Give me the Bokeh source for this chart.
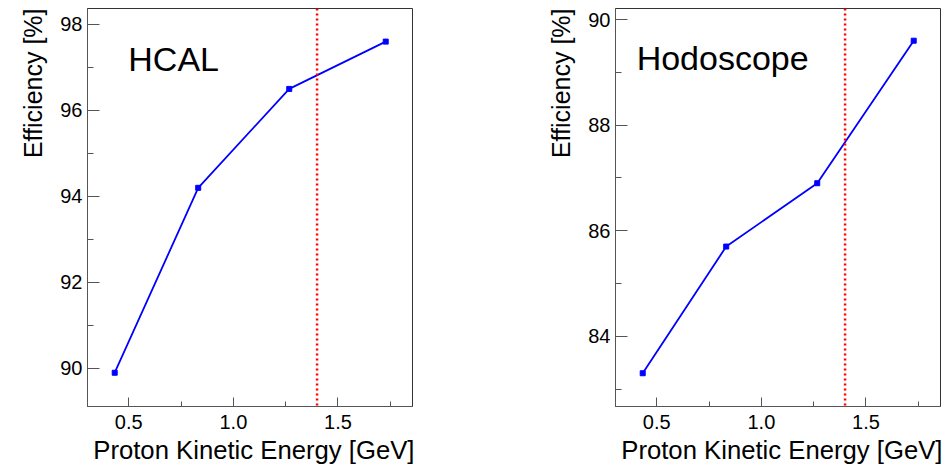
from bokeh.plotting import figure
from bokeh.layouts import row
from bokeh.models import Span, Label, Title, SingleIntervalTicker, PrintfTickFormatter
from bokeh.embed import file_html
from bokeh.resources import INLINE

# Data
energy = [0.433, 0.832, 1.267, 1.728]          # Proton kinetic energy [GeV]
hcal_eff = [89.9, 94.2, 96.5, 97.6]            # HCAL efficiency [%]
hodo_eff = [83.3, 85.7, 86.9, 89.6]            # Hodoscope efficiency [%]
cut_energy = 1.4                               # red dotted line
panel_names = ["HCAL", "Hodoscope"]
x_label = "Proton Kinetic Energy [GeV]"
y_label = "Efficiency [%]"

FONT = "Liberation Sans"
AX = "#555555"


def make_panel(y, name, yrange, bl, br, lab_xy):
    p = figure(width=bl + 325 + br, height=466, output_backend="svg",
               toolbar_location=None, x_range=(0.303, 1.856), y_range=yrange,
               min_border_left=bl, min_border_right=br,
               min_border_top=8, min_border_bottom=60)
    p.grid.visible = False
    p.background_fill_color = "white"
    p.border_fill_color = "white"
    p.outline_line_color = "#333333"
    p.outline_line_width = 1

    p.xaxis.ticker = SingleIntervalTicker(interval=0.5, num_minor_ticks=2)
    p.xaxis.formatter = PrintfTickFormatter(format="%.1f")
    p.yaxis.ticker = SingleIntervalTicker(interval=2, num_minor_ticks=2)

    for ax in (p.xaxis[0], p.yaxis[0]):
        ax.axis_line_color = AX
        ax.major_tick_line_color = AX
        ax.minor_tick_line_color = AX
        ax.major_tick_out = 0
        ax.minor_tick_out = 0
        ax.major_label_text_font = FONT
        ax.major_label_text_font_size = "20px"
        ax.major_label_text_color = "black"
    p.xaxis.major_tick_in = 9
    p.xaxis.minor_tick_in = 5
    p.yaxis.major_tick_in = 12
    p.yaxis.minor_tick_in = 6
    p.xaxis.major_label_standoff = 8
    p.yaxis.major_label_standoff = 5

    p.add_layout(Title(text=x_label, align="right", text_font=FONT,
                       text_font_size="25.7px", text_font_style="normal",
                       text_color="black", standoff=4, offset=-2), "below")
    p.add_layout(Title(text=y_label, align="right", vertical_align="top",
                       text_font=FONT, text_font_size="25px",
                       text_font_style="normal", text_color="black",
                       standoff=18, offset=0), "left")

    p.add_layout(Span(location=cut_energy, dimension="height",
                      line_color="#ff0000", line_width=2.5, line_dash="2 3"))
    p.line(energy, y, line_color="#0000ff", line_width=1.8)
    p.scatter(energy, y, marker="square", size=5, color="#0000ff")

    p.add_layout(Label(x=lab_xy[0], y=lab_xy[1], text=name,
                       text_font=FONT, text_font_size="34px",
                       text_color="black", text_baseline="alphabetic"))
    return p


p1 = make_panel(hcal_eff, panel_names[0], (89.115, 98.37), 87, 60, (0.498, 97.206))
p2 = make_panel(hodo_eff, panel_names[1], (82.67, 90.21), 143, 5, (0.404, 89.27))

layout = row(p1, p2)
open("out.html", "w").write(file_html(layout, INLINE))
